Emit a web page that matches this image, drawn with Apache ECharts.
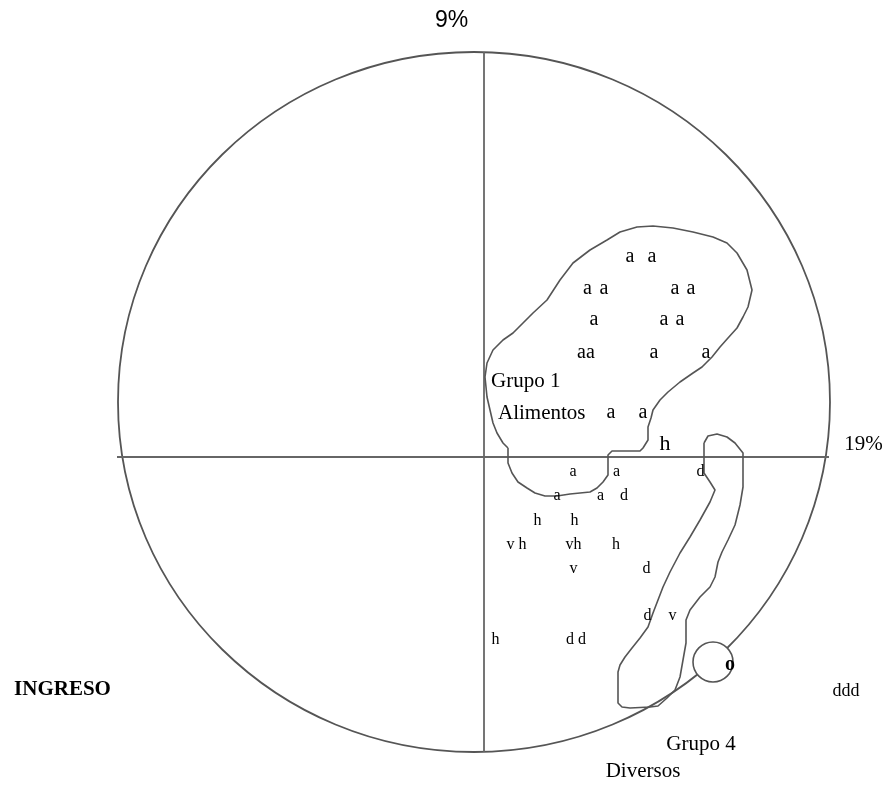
<!DOCTYPE html>
<html>
<head>
<meta charset="utf-8">
<script src="https://cdn.jsdelivr.net/npm/echarts@6/dist/echarts.min.js"></script>
<style>
  html, body { margin: 0; padding: 0; background: #fff; }
  #main { width: 889px; height: 786px; }
</style>
</head>
<body>
<div id="main"></div>
<script>
// origen = cruce de los ejes; unidades en px del dibujo
const marco = [-10, 55, 356, 350];           // cx, cy, rx, ry
const ejeVertical = [[0, 405], [0, -295]];
const ejeHorizontal = [[-367, 0], [345, 0]];
const circuloO = [229, -205, 20];

// Grupo 1 Alimentos
const contornoGrupo1 = [
  [24, 9], [19, 14], [13, 24], [9, 34], [6, 47], [3, 60], [1, 80], [3, 94], [9, 107],
  [19, 117], [29, 124], [39, 134], [49, 144], [63, 157], [76, 177], [89, 194], [106, 207],
  [123, 217], [136, 225], [153, 230], [169, 231], [189, 229], [209, 225], [229, 220],
  [243, 214], [253, 204], [263, 187], [268, 167], [264, 150], [259, 140], [253, 129],
  [244, 119], [236, 110], [228, 100], [218, 90], [209, 84], [196, 75], [184, 65], [176, 57],
  [169, 47], [167, 39], [164, 30], [164, 17], [159, 9], [156, 6], [128, 6], [124, 2],
  [124, -18], [119, -25], [113, -31], [106, -35], [96, -36], [86, -37], [73, -39], [61, -39],
  [51, -36], [43, -31], [34, -25], [28, -16], [24, -6], [24, 9]
];

// Grupo 4 Diversos
const contornoGrupo4 = [
  [220, 14], [224, 21], [233, 23], [243, 20], [251, 14], [259, 4], [259, -30], [256, -48],
  [251, -68], [244, -83], [238, -95], [234, -105], [231, -120], [226, -130], [216, -140],
  [206, -153], [202, -163], [202, -186], [199, -203], [196, -220], [191, -233], [183, -241],
  [174, -249], [166, -250], [146, -251], [138, -250], [134, -246], [134, -215], [136, -208],
  [141, -200], [148, -191], [156, -181], [164, -170], [169, -156], [174, -143], [179, -130],
  [186, -115], [196, -96], [206, -80], [216, -63], [226, -45], [231, -33], [226, -25],
  [220, -16], [220, 14]
];

// letras dentro del grupo 1
const letrasGrandes = [
  [146, 200, 'a'], [168, 200, 'a'],
  [103.5, 168, 'a'], [120, 168, 'a'], [191, 168, 'a'], [207, 168, 'a'],
  [110, 137, 'a'], [180, 137, 'a'], [196, 137, 'a'],
  [102, 104, 'aa'], [170, 104, 'a'], [222, 104, 'a'],
  [127, 44, 'a'], [159, 44, 'a']
];
const letraH = [[181, 12.5, 'h']];

// letras bajo el eje
const letrasChicas = [
  [89, -15, 'a'], [132.5, -15, 'a'], [216.5, -15, 'd'],
  [73, -39, 'a'], [116.5, -39, 'a'], [140, -39, 'd'],
  [53.5, -64, 'h'], [90.5, -64, 'h'],
  [32.5, -88, 'v h'], [89.5, -88, 'vh'], [132, -88, 'h'],
  [89.5, -112, 'v'], [162.5, -112, 'd'],
  [163.5, -159, 'd'], [188.5, -159, 'v'],
  [11.5, -183, 'h'], [92, -183, 'd d']
];
const letraO = [[246, -208, 'o']];
const letrasDDD = [[362, -234, 'ddd']];

const rotulos = [
  [7, 76, 'Grupo 1', 'left'],
  [14, 44, 'Alimentos', 'left'],
  [217, -287.5, 'Grupo 4', 'center'],
  [159, -314, 'Diversos', 'center'],
  [379.5, 12.5, '19%', 'center']
];
const rotuloIngreso = [[-421.5, -232.5, 'INGRESO']];
const rotuloArriba = [[-32.5, 436, '9%']];

const GRIS = '#555';

function serieTexto(datos, font, z) {
  return {
    type: 'custom',
    z: z || 10,
    data: datos.map(d => [d[0], d[1]]),
    renderItem: function (params, api) {
      const d = datos[params.dataIndex];
      const p = api.coord([d[0], d[1]]);
      return {
        type: 'text',
        x: p[0],
        y: p[1],
        style: {
          text: d[2],
          font: font,
          fill: '#000',
          align: d[3] || 'center',
          verticalAlign: 'middle'
        }
      };
    }
  };
}

function serieLinea(puntos, w, color) {
  return {
    type: 'line',
    data: puntos,
    symbol: 'none',
    z: 3,
    lineStyle: { color: color || GRIS, width: w || 1.8 }
  };
}

const chart = echarts.init(document.getElementById('main'));
chart.setOption({
  animation: false,
  grid: { left: 0, right: 0, top: 0, bottom: 0 },
  xAxis: { type: 'value', min: -484, max: 405, show: false },
  yAxis: { type: 'value', min: -329, max: 457, show: false },
  series: [
    {
      type: 'custom',
      z: 2,
      data: [marco],
      renderItem: function (params, api) {
        const c = api.coord([marco[0], marco[1]]);
        const s = api.size([marco[2], marco[3]]);
        return {
          type: 'ellipse',
          shape: { cx: c[0], cy: c[1], rx: s[0], ry: s[1] },
          style: { fill: 'none', stroke: GRIS, lineWidth: 1.8 }
        };
      }
    },
    serieLinea(ejeVertical, 1.8, '#666'),
    serieLinea(ejeHorizontal, 1.8, '#666'),
    serieLinea(contornoGrupo1, 1.6),
    serieLinea(contornoGrupo4, 1.6),
    {
      type: 'custom',
      z: 5,
      data: [circuloO],
      renderItem: function (params, api) {
        const c = api.coord([circuloO[0], circuloO[1]]);
        const r = api.size([circuloO[2], 0])[0];
        return {
          type: 'circle',
          shape: { cx: c[0], cy: c[1], r: r },
          style: { fill: '#fff', stroke: GRIS, lineWidth: 1.6 }
        };
      }
    },
    serieTexto(letrasGrandes, '20px "Liberation Serif"'),
    serieTexto(letraH, '22px "Liberation Serif"'),
    serieTexto(letrasChicas, '16px "Liberation Serif"'),
    serieTexto(letraO, 'bold 20px "Liberation Serif"'),
    serieTexto(letrasDDD, '18px "Liberation Serif"'),
    serieTexto(rotulos, '21px "Liberation Serif"'),
    serieTexto(rotuloIngreso, 'bold 21px "Liberation Serif"'),
    serieTexto(rotuloArriba, '23px "Liberation Sans"')
  ]
});
</script>
</body>
</html>
